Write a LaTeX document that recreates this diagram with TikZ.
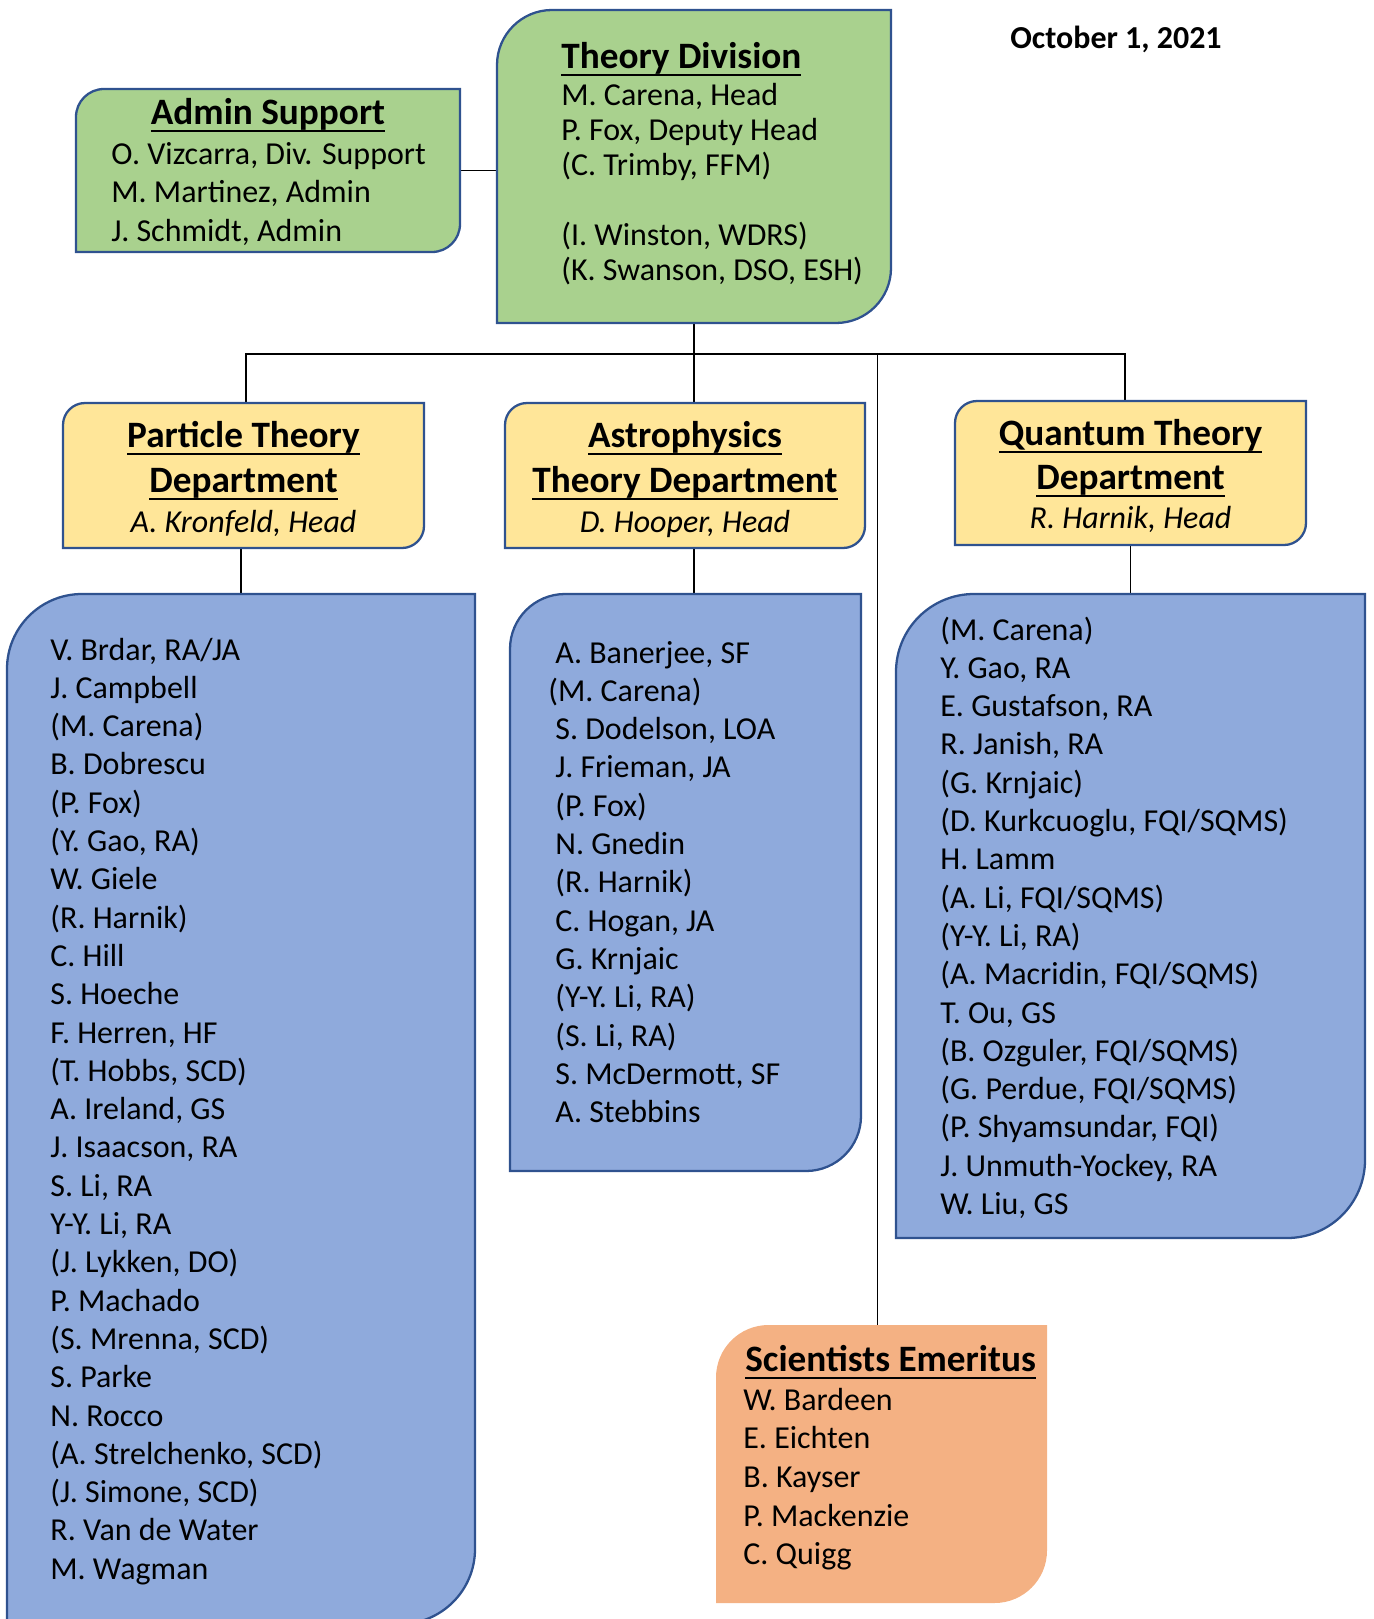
\documentclass[tikz,border=0pt]{standalone}
\usepackage{fontspec}
\setmainfont{Carlito}
\usepackage{tikz}
\usetikzlibrary{fit}

\definecolor{divgreen}{HTML}{A9D18E}
\definecolor{deptyellow}{HTML}{FFE699}
\definecolor{groupblue}{HTML}{8FAADC}
\definecolor{emerorange}{HTML}{F4B183}
\definecolor{edgeblue}{HTML}{2F528F}

% thick underline for the box titles
\newcommand\ulhead[1]{\setbox0\hbox{#1}\rlap{\rule[-4.8pt]{\wd0}{1.6pt}}\box0}
% box with round top-left and bottom-right corners
\newcommand\diagcorner[3][]{%
  \path[#1] (#2.south west) -- ([yshift=-#3]#2.north west)
    arc[start angle=180,end angle=90,radius=#3] -- (#2.north east)
    -- ([yshift=#3]#2.south east)
    arc[start angle=0,end angle=-90,radius=#3] -- cycle;}

\tikzset{
  area/.style={inner sep=0pt, outer sep=0pt},
  link/.style={draw=black, line width=0.7pt},
  divbox/.style={fill=divgreen, draw=edgeblue, line width=1.3pt},
  deptbox/.style={fill=deptyellow, draw=edgeblue, line width=1.3pt},
  groupbox/.style={fill=groupblue, draw=edgeblue, line width=1.3pt},
  emerbox/.style={fill=emerorange},
  body/.style={anchor=base west, inner sep=0pt, font=\fontsize{18.2}{22}\selectfont},
  head/.style={anchor=base, inner sep=0pt, font=\fontsize{21.2}{25}\selectfont\bfseries},
  boss/.style={anchor=base, inner sep=0pt, font=\fontsize{18.2}{22}\selectfont\itshape}
}

\begin{document}
\begin{tikzpicture}[x=0.02cm, y=-0.02cm]
\useasboundingbox (0,0) rectangle (1373,1619);

% box areas
\node[area, fit={(76,89) (460,252)}] (as) {};
\node[area, fit={(497,10) (891,323)}] (td) {};
\node[area, fit={(63,403) (424,548)}] (pt) {};
\node[area, fit={(505,403) (865,548)}] (ad) {};
\node[area, fit={(955,401) (1306,545)}] (qt) {};
\node[area, fit={(7,594) (475,1624)}] (pg) {};
\node[area, fit={(510,594) (861,1171)}] (ag) {};
\node[area, fit={(896,594) (1365,1238)}] (qg) {};
\node[area, fit={(716,1325) (1047,1603)}] (em) {};
\coordinate (bus) at (0,354);
\coordinate (pt-top) at ([xshift=0.05cm]pt.north);
\coordinate (qt-top) at ([xshift=-0.11cm]qt.north);
\coordinate (em-top) at ([xshift=-0.08cm]em.north);

% connectors
\draw[link] (as.east) -- (as.east -| td.west);
\draw[link] (td.south) -- (td.south |- ad.north);
\draw[link] (pt-top) |- (bus -| qt-top) -- (qt-top);
\draw[link] (em-top) -- (em-top |- bus);
\draw[link] (pg.north) -- (pg.north |- pt.south);
\draw[link] (ad.south -| td.south) -- (ag.north -| td.south);
\draw[link] (qg.north) -- (qg.north |- qt.south);

% boxes
\diagcorner[divbox]{as}{0.56cm}
\diagcorner[divbox]{td}{1.1cm}
\diagcorner[deptbox]{pt}{0.44cm}
\diagcorner[deptbox]{ad}{0.44cm}
\diagcorner[deptbox]{qt}{0.44cm}
\diagcorner[groupbox]{pg}{1.5cm}
\diagcorner[groupbox]{ag}{1.1cm}
\diagcorner[groupbox]{qg}{1.56cm}
\diagcorner[emerbox]{em}{1.05cm}

\node[body, font=\fontsize{18.2}{22}\selectfont\bfseries] (date) at (1010,48) {October 1, 2021};

% Theory Division
\node[head, anchor=base west] (td-h) at (561,68) {\ulhead{Theory Division}};
\foreach \n/\y [count=\i] in {{M. Carena, Head}/105, {P. Fox, Deputy Head}/140,
    {(C. Trimby, FFM)}/175, {(I. Winston, WDRS)}/245, {(K. Swanson, DSO, ESH)}/280}
  \node[body] (td\i) at (561,\y) {\n};

% Admin Support
\node[head] (as-h) at (268,124) {\ulhead{Admin Support}};
\foreach \n [count=\i from 0] in {{O. Vizcarra, Div. Support}, {M. Martinez, Admin}, {J. Schmidt, Admin}}
  \node[body] (as\i) at (111,164+\i*38.5) {\n};

% departments
\node[head] (pt-h1) at (243.5,447) {\ulhead{Particle Theory}};
\node[head] (pt-h2) at (243.5,492) {\ulhead{Department}};
\node[boss] (pt-b) at (243.5,532) {A. Kronfeld, Head};
\node[head] (ad-h1) at (685,447) {\ulhead{Astrophysics}};
\node[head] (ad-h2) at (685,492) {\ulhead{Theory Department}};
\node[boss] (ad-b) at (685,532) {D. Hooper, Head};
\node[head] (qt-h1) at (1130.5,445) {\ulhead{Quantum Theory}};
\node[head] (qt-h2) at (1130.5,489) {\ulhead{Department}};
\node[boss] (qt-b) at (1130.5,528) {R. Harnik, Head};

% particle theory members
\foreach \n [count=\i from 0] in {{V. Brdar, RA/JA}, {J. Campbell}, {(M. Carena)}, {B. Dobrescu},
    {(P. Fox)}, {(Y. Gao, RA)}, {W. Giele}, {(R. Harnik)}, {C. Hill}, {S. Hoeche},
    {F. Herren, HF}, {(T. Hobbs, SCD)}, {A. Ireland, GS}, {J. Isaacson, RA}, {S. Li, RA},
    {Y-Y. Li, RA}, {(J. Lykken, DO)}, {P. Machado}, {(S. Mrenna, SCD)}, {S. Parke},
    {N. Rocco}, {(A. Strelchenko, SCD)}, {(J. Simone, SCD)}, {R. Van de Water}, {M. Wagman}}
  \node[body] (pg\i) at (50,660+\i*38.3) {\n};

% astrophysics members
\foreach \n [count=\i from 0] in {{A. Banerjee, SF}, {\hspace*{-0.14cm}(M. Carena)}, {S. Dodelson, LOA},
    {J. Frieman, JA}, {(P. Fox)}, {N. Gnedin}, {(R. Harnik)}, {C. Hogan, JA}, {G. Krnjaic},
    {(Y-Y. Li, RA)}, {(S. Li, RA)}, {S. McDermott, SF}, {A. Stebbins}}
  \node[body] (ag\i) at (555,663+\i*38.3) {\n};

% quantum theory members
\foreach \n [count=\i from 0] in {{(M. Carena)}, {Y. Gao, RA}, {E. Gustafson, RA}, {R. Janish, RA},
    {(G. Krnjaic)}, {(D. Kurkcuoglu, FQI/SQMS)}, {H. Lamm}, {(A. Li, FQI/SQMS)}, {(Y-Y. Li, RA)},
    {(A. Macridin, FQI/SQMS)}, {T. Ou, GS}, {(B. Ozguler, FQI/SQMS)}, {(G. Perdue, FQI/SQMS)},
    {(P. Shyamsundar, FQI)}, {J. Unmuth-Yockey, RA}, {W. Liu, GS}}
  \node[body] (qg\i) at (940,640+\i*38.3) {\n};

% emeritus
\node[head, anchor=base west] (em-h) at (745,1371) {\ulhead{Scientists Emeritus}};
\foreach \n [count=\i from 0] in {W. Bardeen, E. Eichten, B. Kayser, P. Mackenzie, C. Quigg}
  \node[body] (em\i) at (743,1410+\i*38.7) {\n};
\end{tikzpicture}
\end{document}
